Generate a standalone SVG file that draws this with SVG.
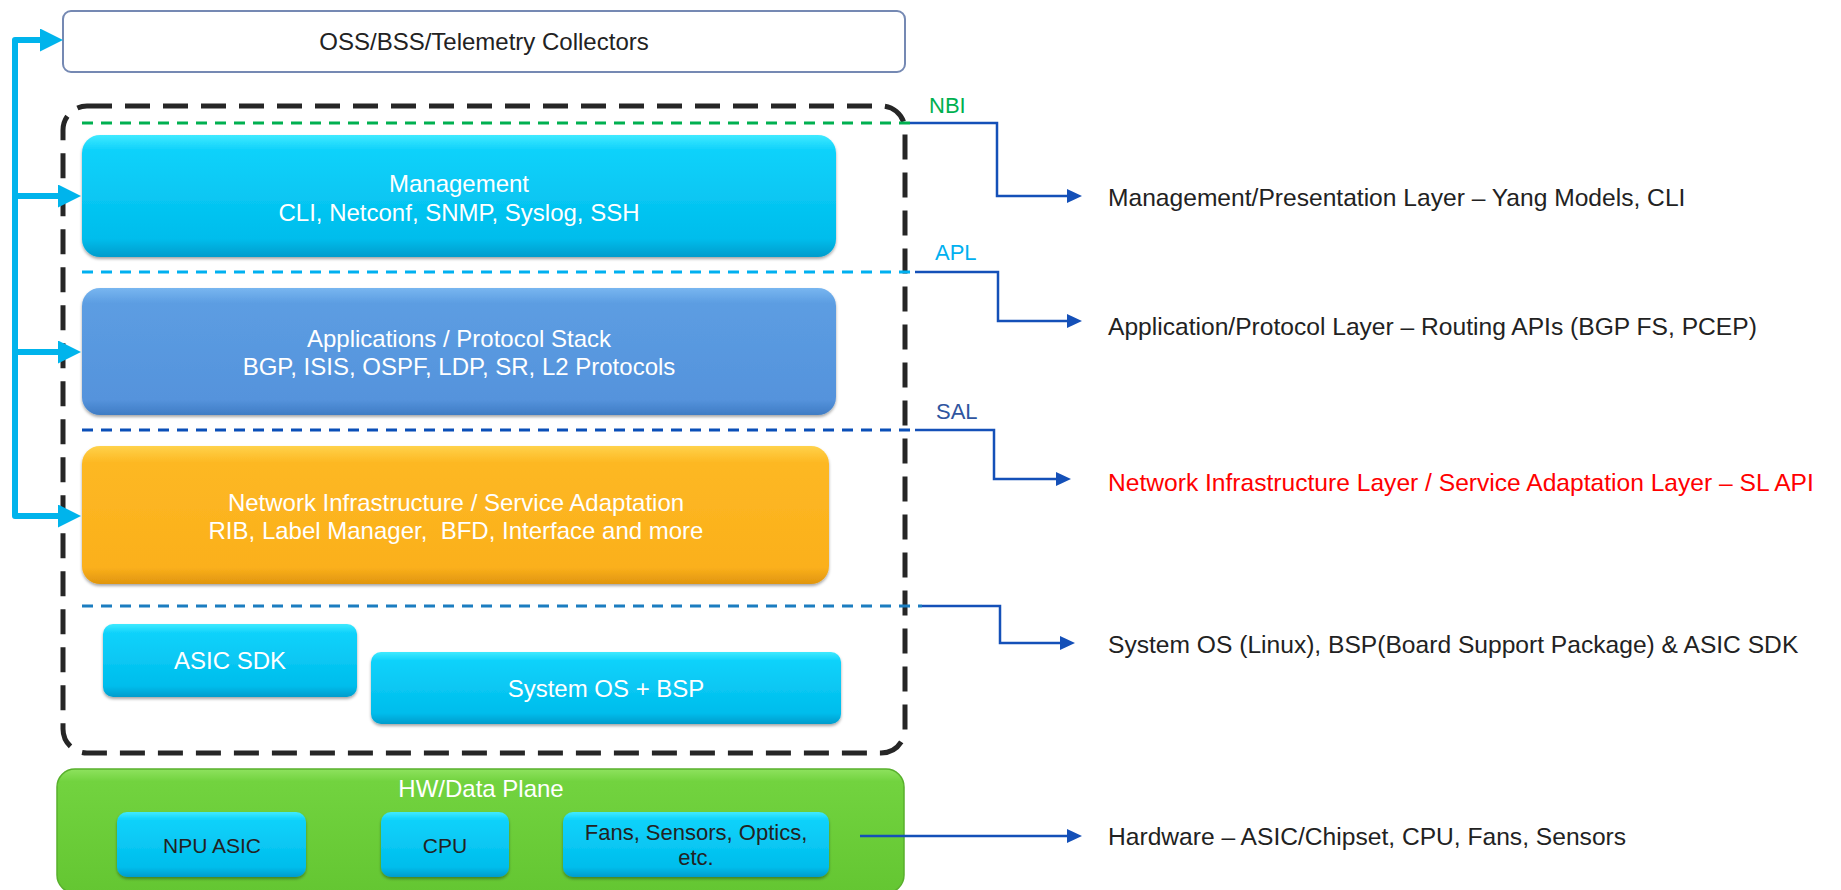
<svg xmlns="http://www.w3.org/2000/svg" width="1841" height="890" viewBox="0 0 1841 890">
<style>
  text { font-family: "Liberation Sans", Arial, sans-serif; }
  .bt { font-size: 24px; fill: #ffffff; text-anchor: middle; }
  .dt { font-size: 21px; fill: #222222; text-anchor: middle; }
  .rt { font-size: 24px; fill: #222222; }
  .desc { font-size: 24.6px; fill: #222222; }
  .lbl { font-size: 22px; }
  .cyan { fill: none; stroke: #00b4ec; stroke-width: 6; stroke-linejoin: round; }
  .blue { fill: none; stroke: #1450b8; stroke-width: 2.5; }
  .sep { fill: none; stroke-width: 3; stroke-dasharray: 11 8; }
</style>
<defs>
  <linearGradient id="gCyan" x1="0" y1="0" x2="0" y2="1">
    <stop offset="0" stop-color="#40eaff"/>
    <stop offset="0.12" stop-color="#10d2fb"/>
    <stop offset="0.85" stop-color="#00bdec"/>
    <stop offset="1" stop-color="#009ccc"/>
  </linearGradient>
  <linearGradient id="gBlue" x1="0" y1="0" x2="0" y2="1">
    <stop offset="0" stop-color="#78b6f0"/>
    <stop offset="0.12" stop-color="#5c9de2"/>
    <stop offset="0.88" stop-color="#5593dc"/>
    <stop offset="1" stop-color="#3f7cc4"/>
  </linearGradient>
  <linearGradient id="gOrange" x1="0" y1="0" x2="0" y2="1">
    <stop offset="0" stop-color="#ffd24a"/>
    <stop offset="0.12" stop-color="#fdb823"/>
    <stop offset="0.88" stop-color="#fbb01c"/>
    <stop offset="1" stop-color="#e0950e"/>
  </linearGradient>
  <linearGradient id="gGreen" x1="0" y1="0" x2="0" y2="1">
    <stop offset="0" stop-color="#8ee25e"/>
    <stop offset="0.1" stop-color="#72d33f"/>
    <stop offset="1" stop-color="#64c632"/>
  </linearGradient>
  <filter id="sh" x="-5%" y="-10%" width="110%" height="130%">
    <feDropShadow dx="0" dy="2" stdDeviation="1.5" flood-color="#000" flood-opacity="0.35"/>
  </filter>
  <marker id="aCyan" markerUnits="userSpaceOnUse" markerWidth="24" markerHeight="24" refX="0" refY="11.5" orient="auto">
    <path d="M0,0 L23,11.5 L0,23 z" fill="#00b4ec"/>
  </marker>
  <marker id="aBlue" markerUnits="userSpaceOnUse" markerWidth="16" markerHeight="16" refX="0" refY="7" orient="auto">
    <path d="M0,0 L15,7 L0,14 z" fill="#1450b8"/>
  </marker>
</defs>

<rect width="1841" height="890" fill="#ffffff"/>

<g id="oss">
  <rect x="63" y="11" width="842" height="61" rx="8" fill="#ffffff" stroke="#7589b3" stroke-width="2"/>
  <text x="484" y="50" class="rt" text-anchor="middle">OSS/BSS/Telemetry Collectors</text>
</g>

<g id="container">
  <rect x="63" y="106" width="842" height="647" rx="24" fill="none" stroke="#262626" stroke-width="5" stroke-dasharray="25 13"/>
</g>

<g id="management">
  <rect x="82" y="135" width="754" height="122" rx="18" fill="url(#gCyan)" filter="url(#sh)"/>
  <text x="459" y="192" class="bt">Management</text>
  <text x="459" y="221" class="bt">CLI, Netconf, SNMP, Syslog, SSH</text>
</g>

<g id="applications">
  <rect x="82" y="288" width="754" height="127" rx="18" fill="url(#gBlue)" filter="url(#sh)"/>
  <text x="459" y="347" class="bt">Applications / Protocol Stack</text>
  <text x="459" y="375" class="bt">BGP, ISIS, OSPF, LDP, SR, L2 Protocols</text>
</g>

<g id="network-infra">
  <rect x="82" y="446" width="747" height="138" rx="18" fill="url(#gOrange)" filter="url(#sh)"/>
  <text x="456" y="511" class="bt">Network Infrastructure / Service Adaptation</text>
  <text x="456" y="539" class="bt" style="white-space:pre">RIB, Label Manager,  BFD, Interface and more</text>
</g>

<g id="asic-sdk">
  <rect x="103" y="624" width="254" height="73" rx="10" fill="url(#gCyan)" filter="url(#sh)"/>
  <text x="230" y="669" class="bt">ASIC SDK</text>
</g>

<g id="system-os">
  <rect x="371" y="652" width="470" height="72" rx="10" fill="url(#gCyan)" filter="url(#sh)"/>
  <text x="606" y="697" class="bt">System OS + BSP</text>
</g>

<g id="hw-data-plane">
  <rect x="57" y="769" width="847" height="124" rx="18" fill="url(#gGreen)" stroke="#58b02c" stroke-width="1.5"/>
  <text x="481" y="797" class="bt">HW/Data Plane</text>
</g>

<g id="npu-asic">
  <rect x="117" y="812" width="189" height="65" rx="10" fill="url(#gCyan)" filter="url(#sh)"/>
  <text x="212" y="853" class="dt">NPU ASIC</text>
</g>

<g id="cpu">
  <rect x="381" y="812" width="128" height="65" rx="10" fill="url(#gCyan)" filter="url(#sh)"/>
  <text x="445" y="853" class="dt">CPU</text>
</g>

<g id="fans">
  <rect x="563" y="812" width="266" height="65" rx="10" fill="url(#gCyan)" filter="url(#sh)"/>
  <text x="696" y="840" class="dt" style="font-size:22px">Fans, Sensors, Optics,</text>
  <text x="696" y="865" class="dt" style="font-size:22px">etc.</text>
</g>

<g id="layer-labels">
  <text x="929" y="113" class="lbl" fill="#00b050">NBI</text>
  <text x="935" y="260" class="lbl" fill="#00b0f0">APL</text>
  <text x="936" y="419" class="lbl" fill="#2f55a0">SAL</text>
</g>

<g id="descriptions">
  <text x="1108" y="206" class="desc">Management/Presentation Layer – Yang Models, CLI</text>
  <text x="1108" y="335" class="desc">Application/Protocol Layer – Routing APIs (BGP FS, PCEP)</text>
  <text x="1108" y="491" class="desc" style="fill:#ff0000">Network Infrastructure Layer / Service Adaptation Layer – SL API</text>
  <text x="1108" y="653" class="desc">System OS (Linux), BSP(Board Support Package) &amp; ASIC SDK</text>
  <text x="1108" y="845" class="desc">Hardware – ASIC/Chipset, CPU, Fans, Sensors</text>
</g>

<g id="connectors">
  <path class="sep" d="M82,123 H912" stroke="#00b050"/>
  <path class="sep" d="M82,272 H915" stroke="#00b0f0"/>
  <path class="sep" d="M82,430 H915" stroke="#0a4fb8"/>
  <path class="sep" d="M82,606 H922" stroke="#1b7dc0"/>
  <path class="blue" d="M910,123 H997 V196 H1067" marker-end="url(#aBlue)"/>
  <path class="blue" d="M915,272 H998 V321 H1067" marker-end="url(#aBlue)"/>
  <path class="blue" d="M915,430 H994 V479 H1056" marker-end="url(#aBlue)"/>
  <path class="blue" d="M922,606 H1000 V643 H1060" marker-end="url(#aBlue)"/>
  <path class="blue" d="M860,836 H1067" marker-end="url(#aBlue)"/>
  <path class="cyan" d="M40,40 H15 V516 H58" marker-end="url(#aCyan)"/>
  <path class="cyan" d="M15,40 H40" marker-end="url(#aCyan)"/>
  <path class="cyan" d="M15,196 H58" marker-end="url(#aCyan)"/>
  <path class="cyan" d="M15,352 H58" marker-end="url(#aCyan)"/>
</g>
</svg>
